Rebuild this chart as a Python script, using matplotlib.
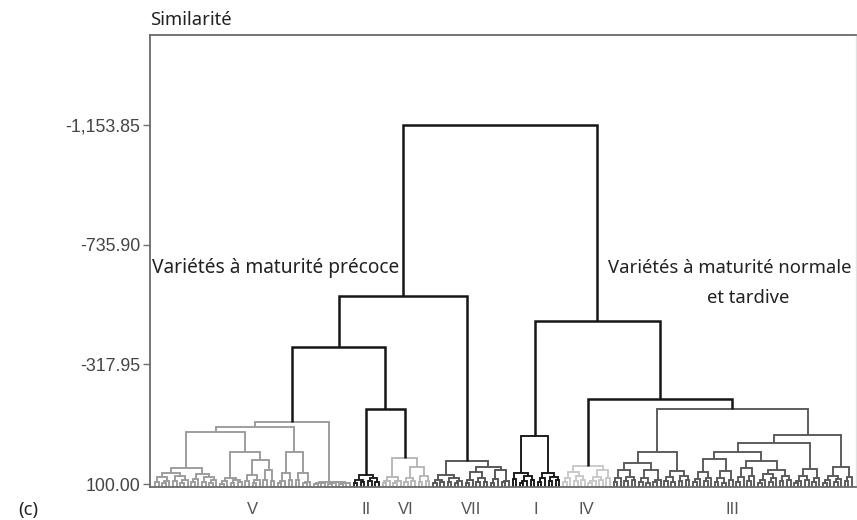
import matplotlib
matplotlib.use("Agg")
import matplotlib.pyplot as plt

# ---------------- data ----------------
# y axis (similarity) ticks
tick_values = [-1153.85, -735.90, -317.95, 100.00]
tick_labels = ["-1,153.85", "-735.90", "-317.95", "100.00"]
LEAF_LEVEL = 110.0          # leaves hang down to the base line
Y_TOP = -1468.0

# Cluster sub-trees: [merge height, left, right], leaf = 0
A1 = [61, [75, [92, 0, 0], [88, [97, 0, 0], 0]], [70, [90, 0, 0], [85, [95, 0, 0], 0]]]
A2 = [64, [82, [94, 0, 0], 0], [76, [91, 0, 0], [87, [97, 0, 0], 0]]]
B1 = [80, [90, [98, 0, 0], 0], [86, [96, 0, 0], [93, 0, 0]]]
B2a = [68, [88, 0, 0], [84, [95, 0, 0], 0]]
B2b = [51, [86, 0, 0], [90, 0, 0]]
C1 = [61, [89, [97, 0, 0], 0], [85, 0, 0]]
C2 = [61, [87, 0, 0], [92, [96, 0, 0], 0]]
V_R = [92, [95, [98, 0, 0], [97, 0, 0]], [94, [97, [99, 0, 0], 0], [96, [98, 0, 0], [97, 0, 0]]]]
V_tree = [-117, [-99, [-82, [44, A1, A2], [-12, B1, [16, B2a, B2b]]], [-12, C1, C2]], V_R]

II_tree = [68, [84, [95, 0, 0], [92, 0, 0]], [80, [90, 0, 0], [94, 0, 0]]]

VIa = [75, [90, [97, 0, 0], 0], [88, [95, 0, 0], 0]]
VIb = [40, [78, [93, 0, 0], [90, 0, 0]], [72, [92, 0, 0], [89, 0, 0]]]
VI_tree = [9, VIa, VIb]

VIIa = [68, [84, [95, 0, 0], [91, 0, 0]], [79, [93, 0, 0], [88, [97, 0, 0], 0]]]
VIIb1 = [58, [86, [96, 0, 0], 0], [80, [92, 0, 0], [94, 0, 0]]]
VIIb2 = [52, [83, [95, 0, 0], 0], [88, [93, 0, 0], 0]]
VII_tree = [19, VIIa, [40, VIIb1, VIIb2]]

Ia = [61, [82, 0, 0], [72, [90, [97, 0, 0], 0], [86, 0, 0]]]
Ib = [61, [80, [93, 0, 0], 0], [76, [90, 0, 0], [87, 0, 0]]]
I_tree = [-68, Ia, Ib]

IVa = [58, [78, [92, 0, 0], 0], [72, [88, 0, 0], [85, 0, 0]]]
IVb = [52, [74, [90, [97, 0, 0], 0], [86, 0, 0]], [80, 0, 0]]
IV_tree = [38, IVa, IVb]

IIIa1a = [51, [80, [93, 0, 0], 0], [74, [90, 0, 0], [86, 0, 0]]]
IIIa1b = [51, [78, [91, 0, 0], [95, 0, 0]], [84, [92, 0, 0], 0]]
IIIa2 = [54, [76, [90, 0, 0], [93, 0, 0]], [72, [88, 0, 0], [85, 0, 0]]]
P1a = [57, [82, [94, 0, 0], 0], [78, [90, 0, 0], 0]]
P1b = [54, [80, [92, 0, 0], [95, 0, 0]], [86, 0, 0]]
P2a = [44, [76, [91, 0, 0], 0], [70, [88, 0, 0], 0]]
P2b = [51, [66, [84, [95, 0, 0], 0], [80, [92, 0, 0], 0]], [70, [88, 0, 0], [85, 0, 0]]]
Q = [47, [72, [88, [96, 0, 0], 0], [84, 0, 0]], [78, [92, 0, 0], 0]]
IIIb2 = [40, [70, [86, [95, 0, 0], 0], [82, [93, 0, 0], 0]], [76, [90, 0, 0], 0]]
III_tree = [-162, [-12, [26, IIIa1a, IIIa1b], IIIa2],
            [-71, [-43.5, [-12, [12, P1a, P1b], [19, P2a, P2b]], Q], IIIb2]]

# top of the tree, clusters tagged by name
tree = [-1153.85,
        [-557, [-379, ("V", V_tree), [-162, ("II", II_tree), ("VI", VI_tree)]], ("VII", VII_tree)],
        [-469.5, ("I", I_tree), [-197, ("IV", IV_tree), ("III", III_tree)]]]

cluster_names = ["V", "II", "VI", "VII", "I", "IV", "III"]
cluster_colors = {"V": "#9a9a9a", "II": "#1c1c1c", "VI": "#b6b6b6", "VII": "#535353",
                  "I": "#151515", "IV": "#c8c8c8", "III": "#575757"}
TOP_COLOR = "#161616"

# ---------------- figure ----------------
W, H = 857, 520
fig = plt.figure(figsize=(W / 100, H / 100), dpi=100)
ax = fig.add_axes([150 / W, 1 - 487 / H, (856 - 150) / W, (487 - 35) / H])

counter = [0]
cluster_span = {}


def draw(node, color, lw):
    if isinstance(node, tuple):
        name, sub = node
        start = counter[0]
        res = draw(sub, cluster_colors[name], 1.35)
        cluster_span[name] = (start, counter[0] - 1)
        return res
    if node == 0:
        x = counter[0]
        counter[0] += 1
        return x, LEAF_LEVEL
    h = node[0]
    pts = [draw(c, color, lw) for c in node[1:]]
    (x1, h1), (x2, h2) = pts[0], pts[-1]
    ax.plot([x1, x1, x2, x2], [h1, h, h, h2], color=color, lw=lw,
            solid_joinstyle="miter", solid_capstyle="butt", zorder=3 if color == TOP_COLOR else 2)
    return (x1 + x2) / 2.0, h


draw(tree, TOP_COLOR, 1.8)
n_leaves = counter[0]

# map leaf index to pixels: first leaf at x=155, spacing ~3.61 px
s = (852 - 155) / (n_leaves - 1)
ax.set_xlim(-(155 - 150) / s, (856 - 155) / s)
ax.set_ylim(LEAF_LEVEL, Y_TOP)

ax.set_xticks([])
ax.set_yticks(tick_values)
ax.set_yticklabels(tick_labels, fontfamily="Liberation Sans", fontsize=12.8, color="#444444")
ax.tick_params(axis="y", length=5, width=1, color="#707070", pad=2)

for side in ("left", "top", "bottom"):
    ax.spines[side].set_color("#6a6a6a")
    ax.spines[side].set_linewidth(1.3)
ax.spines["right"].set_color("#e2e2e2")
ax.spines["right"].set_linewidth(1.0)

# cluster labels under the leaves
for name in cluster_names:
    a, b = cluster_span[name]
    ax.text((a + b) / 2.0, -23 / 452, name, transform=ax.get_xaxis_transform(),
            ha="center", va="center", fontsize=12, fontfamily="Liberation Sans",
            color="#555555")

hum = ["Noto Sans", "DejaVu Sans"]
fs = 13.3
fig.text(150 / W, 1 - 20 / H, "Similarité", ha="left", va="center", fontsize=fs,
         family=hum, color="#222222")
fig.text(18 / W, 1 - 510 / H, "(c)", ha="left", va="center", fontsize=fs,
         family=hum, color="#222222")
fig.text(152 / W, 1 - 268 / H, "Variétés à maturité précoce", ha="left", va="center",
         fontsize=13.8, family=hum, color="#222222")
fig.text(851 / W, 1 - 268 / H, "Variétés à maturité normale", ha="right", va="center",
         fontsize=fs, family=hum, color="#222222")
fig.text(748 / W, 1 - 298 / H, "et tardive", ha="center", va="center",
         fontsize=fs, family=hum, color="#222222")

fig.savefig("out.png", dpi=100)
